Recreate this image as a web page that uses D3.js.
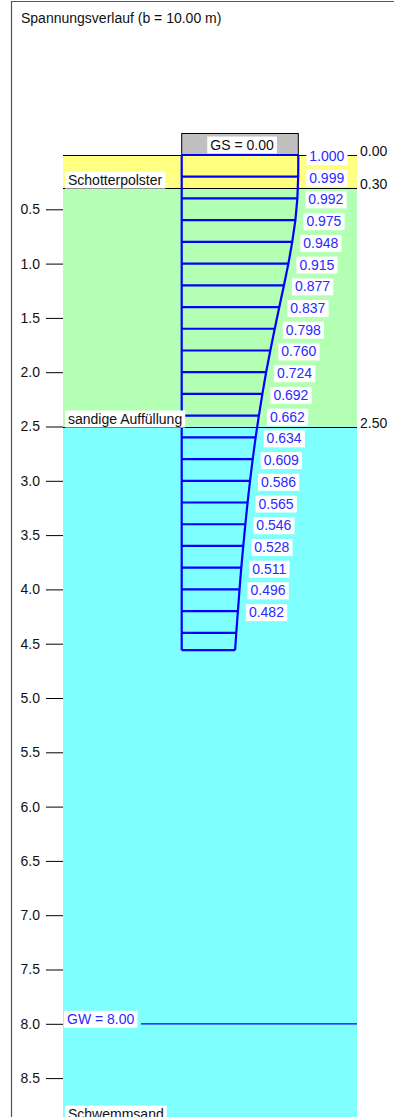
<!DOCTYPE html>
<html><head><meta charset="utf-8">
<script src="https://cdn.jsdelivr.net/npm/d3@7"></script>
<style>
html,body{margin:0;padding:0;background:#fff;}
svg{display:block;font-family:"Liberation Sans",Arial,Helvetica,sans-serif;}
</style></head>
<body>
<svg id="chart" width="394" height="1117"></svg>
<script>
// ---- data ----
const title = "Spannungsverlauf (b = 10.00 m)";
const layerNames = ["Schotterpolster", "sandige Auffüllung", "Schwemmsand"];
const layerTops = [0.00, 0.30, 2.50];
const layerBottoms = [0.30, 2.50, 8.90];
const layerColors = ["#ffff80", "#b3ffb3", "#80ffff"];
const boundaryLabels = ["0.00", "0.30", "2.50"];
const groundLevel = 0.00;
const waterLevel = 8.00;
const stressDepths = [0.0,0.2,0.4,0.6,0.8,1.0,1.2,1.4,1.6,1.8,2.0,2.2,2.4,2.6,2.8,3.0,3.2,3.4,3.6,3.8,4.0,4.2,4.4,4.56];
const stressValues = [1.000,0.999,0.992,0.975,0.948,0.915,0.877,0.837,0.798,0.760,0.724,0.692,0.662,0.634,0.609,0.586,0.565,0.546,0.528,0.511,0.496,0.482,0.468,0.458];
const labelledCount = 22;
const depthTicks = [0.5,1.0,1.5,2.0,2.5,3.0,3.5,4.0,4.5,5.0,5.5,6.0,6.5,7.0,7.5,8.0,8.5];

// ---- layout ----
const svg = d3.select("#chart");
const y = d3.scaleLinear().domain([0, 9]).range([155, 155 + 9 * 108.6]);
const xs = d3.scaleLinear().domain([0, 1]).range([181.7, 298.3]);
const soilLeft = 63, soilRight = 357;
const blue = "#0000ff", labelBlue = "#2a2aff";
const fs = 14;

// frame
svg.append("path").attr("d", `M11.5,1118 V1.5 H395`).attr("fill","none").attr("stroke","#555").attr("stroke-width",1.2);

// title
svg.append("text").attr("x", 21).attr("y", 23).attr("font-size", 14).attr("fill","#111").text(title);

// layers
const layers = layerNames.map((n,i)=>({name:n, top:layerTops[i], bottom:layerBottoms[i], color:layerColors[i], lab:boundaryLabels[i]}));
svg.selectAll("rect.layer").data(layers).enter().append("rect")
  .attr("x", soilLeft).attr("width", soilRight - soilLeft)
  .attr("y", d=>y(d.top)).attr("height", d=>y(d.bottom)-y(d.top))
  .attr("fill", d=>d.color);

// boundary lines + right labels
svg.selectAll("line.bound").data(layers).enter().append("line")
  .attr("x1", soilLeft).attr("x2", soilRight)
  .attr("y1", d=>Math.round(y(d.top))+0.5).attr("y2", d=>Math.round(y(d.top))+0.5)
  .attr("stroke","#000").attr("stroke-width",1);
svg.selectAll("text.blab").data(layers).enter().append("text")
  .attr("x", 360).attr("y", d=>y(d.top)+1)
  .attr("font-size", fs).attr("fill","#111").text(d=>d.lab);

// axis
const axis = d3.axisLeft(y).tickValues(depthTicks).tickSize(17).tickPadding(6).tickFormat(d3.format(".1f"));
const ag = svg.append("g").attr("transform", `translate(${soilLeft},0)`).call(axis);
ag.select(".domain").remove();
ag.selectAll("text").attr("font-size", fs).attr("font-family","inherit").attr("fill","#111");
ag.selectAll("line").attr("stroke","#000");

// GS box
svg.append("rect").attr("x", xs(0)).attr("y", 133.5).attr("width", xs(1)-xs(0)).attr("height", y(groundLevel)-133.5)
  .attr("fill","#c0c0c0").attr("stroke","#000").attr("stroke-width",1);
function boxedText(x, yb, txt, color, anchor) {
  const t = svg.append("text").attr("x", x).attr("y", yb).attr("font-size", fs).attr("fill", color)
    .attr("text-anchor", anchor || "start").text(txt);
  const bb = t.node().getBBox();
  svg.insert("rect", () => t.node()).attr("x", bb.x - 3).attr("y", yb - 13).attr("width", bb.width + 6).attr("height", 17).attr("fill","#fff");
  return t;
}
boxedText((xs(0)+xs(1))/2 + 2, 149.5, "GS = " + groundLevel.toFixed(2), "#111", "middle");

// stress diagram
const pts = stressDepths.map((d,i)=>({d, v:stressValues[i], i}));
svg.selectAll("line.sl").data(pts).enter().append("line")
  .attr("x1", xs(0)).attr("x2", d=>xs(d.v)).attr("y1", d=>y(d.d)).attr("y2", d=>y(d.d))
  .attr("stroke", blue).attr("stroke-width", 2.2);
svg.append("line").attr("x1", xs(0)).attr("x2", xs(0)).attr("y1", y(0)).attr("y2", y(stressDepths[stressDepths.length-1]))
  .attr("stroke", blue).attr("stroke-width", 2.2);
svg.append("path").datum(pts)
  .attr("d", d3.line().x(d=>xs(d.v)).y(d=>y(d.d)))
  .attr("fill","none").attr("stroke", blue).attr("stroke-width", 2.2);
pts.filter(p=>p.i < labelledCount).forEach(p=>{
  boxedText(xs(p.v) + 11, y(p.d) + 6, d3.format(".3f")(p.v), labelBlue);
});

// layer name labels
layers.forEach(l=>{
  boxedText(soilLeft + 5, y(l.bottom) - 3, l.name, "#111");
});

// ground water
svg.append("line").attr("x1", 141).attr("x2", soilRight).attr("y1", y(waterLevel)).attr("y2", y(waterLevel))
  .attr("stroke", blue).attr("stroke-width", 1.2);
boxedText(soilLeft + 4, y(waterLevel), "GW = " + waterLevel.toFixed(2), labelBlue);
</script>
</body></html>
